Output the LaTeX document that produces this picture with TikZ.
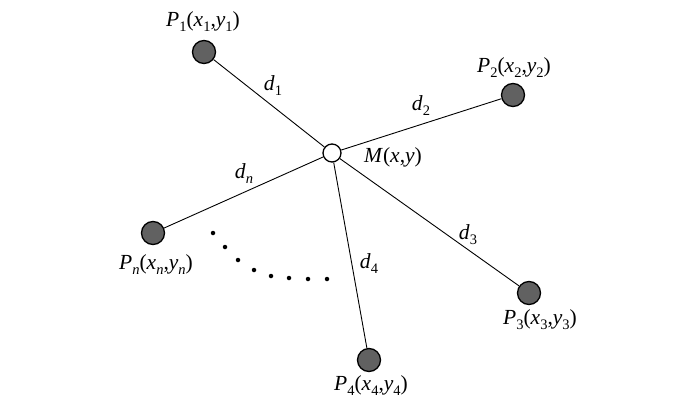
\documentclass[tikz,border=0pt]{standalone}
\usepackage{fontspec}
\setmainfont{Liberation Serif}
\newcommand{\lo}[1]{\raisebox{-0.5ex}{\fontsize{14.5}{14.5}\selectfont #1}}
\newcommand{\iv}[1]{\textit{#1}}
\begin{document}
\begin{tikzpicture}[x=1pt,y=-1pt,
  pt/.style={circle,draw=black,line width=1.3pt,fill=black!62,minimum size=23pt,inner sep=0pt},
  ctr/.style={circle,draw=black,line width=1.3pt,fill=white,minimum size=18pt,inner sep=0pt},
  lab/.style={font=\fontsize{21.5}{24}\selectfont,inner sep=0pt},
  link/.style={line width=0.9pt},
  dotm/.style={circle,fill=black,minimum size=4.5pt,inner sep=0pt}]
\useasboundingbox (0,0) rectangle (700,404);
\node[ctr] (M) at (332,153) {};
\node[pt] (P1) at (204,52) {};
\node[pt] (P2) at (513,95) {};
\node[pt] (P3) at (529,293) {};
\node[pt] (P4) at (369,360) {};
\node[pt] (Pn) at (153,233) {};
\draw[link] (M) -- (P1);
\draw[link] (M) -- (P2);
\draw[link] (M) -- (P3);
\draw[link] (M) -- (P4);
\draw[link] (M) -- (Pn);
\node[lab] (LP1) at (203,22) {\iv{P}\lo{1}(\iv{x}\lo{1},\iv{y}\lo{1})};
\node[lab] (LP2) at (514,68) {\iv{P}\lo{2}(\iv{x}\lo{2},\iv{y}\lo{2})};
\node[lab] (LP3) at (540,320) {\iv{P}\lo{3}(\iv{x}\lo{3},\iv{y}\lo{3})};
\node[lab] (LP4) at (371,386) {\iv{P}\lo{4}(\iv{x}\lo{4},\iv{y}\lo{4})};
\node[lab] (LPn) at (156,265) {\iv{P}\lo{\iv{n}}(\iv{x}\lo{\iv{n}},\iv{y}\lo{\iv{n}})};
\node[lab] (LM) at (393,157) {\iv{M}(\iv{x},\iv{y})};
\node[lab] (d1) at (273,86) {\iv{d}\lo{1}};
\node[lab] (d2) at (421,106) {\iv{d}\lo{2}};
\node[lab] (d3) at (468,235) {\iv{d}\lo{3}};
\node[lab] (d4) at (369,264) {\iv{d}\lo{4}};
\node[lab] (dn) at (244,174) {\iv{d}\lo{\iv{n}}};
\foreach \i/\x/\y in {1/213/233,2/225/247,3/238/260,4/254/270,5/271/276,6/289/278,7/308/279,8/327/279}
  \node[dotm] (dot\i) at (\x,\y) {};
\end{tikzpicture}
\end{document}
